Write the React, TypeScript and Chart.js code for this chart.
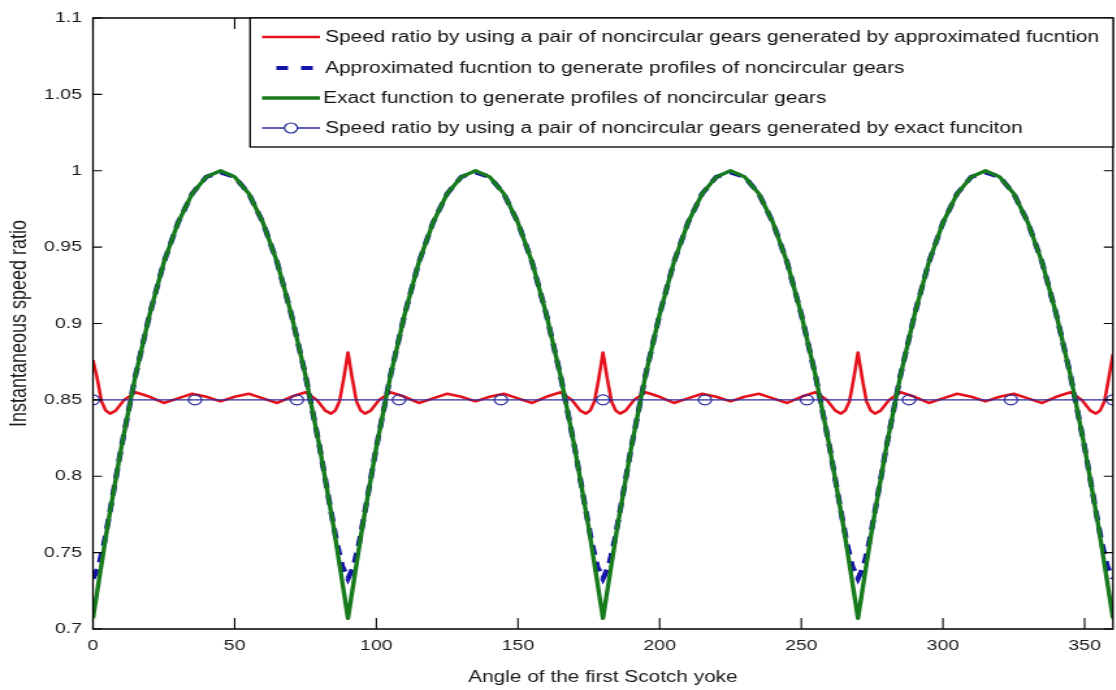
import React, { useEffect, useRef } from 'react';
import { Chart, registerables } from 'chart.js';

Chart.register(...registerables);

// ---------- data ----------
const xTicks = [0, 50, 100, 150, 200, 250, 300, 350];
const yTicks = [0.7, 0.75, 0.8, 0.85, 0.9, 0.95, 1, 1.05, 1.1];
const yTickLabels = ['0.7', '0.75', '0.8', '0.85', '0.9', '0.95', '1', '1.05', '1.1'];

const seriesNames = [
  'Speed ratio by using a pair of noncircular gears generated by approximated fucntion',
  'Approximated fucntion to generate profiles of noncircular gears',
  'Exact function to generate profiles of noncircular gears',
  'Speed ratio by using a pair of noncircular gears generated by exact funciton',
];

const redAngles = [
  0, 1.5, 3, 4.5, 6, 8, 11, 15, 20, 25, 30, 35, 40, 45, 50, 55, 60, 65, 70, 75, 79, 82, 84, 85.5, 87, 88.5,
  90, 91.5, 93, 94.5, 96, 98, 101, 105, 110, 115, 120, 125, 130, 135, 140, 145, 150, 155, 160, 165, 169, 172, 174, 175.5, 177, 178.5,
  180, 181.5, 183, 184.5, 186, 188, 191, 195, 200, 205, 210, 215, 220, 225, 230, 235, 240, 245, 250, 255, 259, 262, 264, 265.5, 267, 268.5,
  270, 271.5, 273, 274.5, 276, 278, 281, 285, 290, 295, 300, 305, 310, 315, 320, 325, 330, 335, 340, 345, 349, 352, 354, 355.5, 357, 358.5,
  360,
];
const redValues = [
  0.876, 0.864, 0.849, 0.843, 0.841, 0.843, 0.850, 0.855, 0.852, 0.848, 0.851, 0.854, 0.852, 0.849, 0.852, 0.854, 0.851, 0.848, 0.852, 0.855, 0.850, 0.843, 0.841, 0.843, 0.849, 0.864,
  0.881, 0.864, 0.849, 0.843, 0.841, 0.843, 0.850, 0.855, 0.852, 0.848, 0.851, 0.854, 0.852, 0.849, 0.852, 0.854, 0.851, 0.848, 0.852, 0.855, 0.850, 0.843, 0.841, 0.843, 0.849, 0.864,
  0.881, 0.864, 0.849, 0.843, 0.841, 0.843, 0.850, 0.855, 0.852, 0.848, 0.851, 0.854, 0.852, 0.849, 0.852, 0.854, 0.851, 0.848, 0.852, 0.855, 0.850, 0.843, 0.841, 0.843, 0.849, 0.864,
  0.881, 0.864, 0.849, 0.843, 0.841, 0.843, 0.850, 0.855, 0.852, 0.848, 0.851, 0.854, 0.852, 0.849, 0.852, 0.854, 0.851, 0.848, 0.852, 0.855, 0.850, 0.843, 0.841, 0.843, 0.849, 0.864,
  0.880,
];

const approxAngles = [
  0, 2, 4, 6, 10, 15, 20, 25, 30, 35, 40, 45, 50, 55, 60, 65, 70, 75, 80, 84, 86, 88,
  90, 92, 94, 96, 100, 105, 110, 115, 120, 125, 130, 135, 140, 145, 150, 155, 160, 165, 170, 174, 176, 178,
  180, 182, 184, 186, 190, 195, 200, 205, 210, 215, 220, 225, 230, 235, 240, 245, 250, 255, 260, 264, 266, 268,
  270, 272, 274, 276, 280, 285, 290, 295, 300, 305, 310, 315, 320, 325, 330, 335, 340, 345, 350, 354, 356, 358,
  360,
];
const approxValues = [
  0.733, 0.741, 0.757, 0.777, 0.819, 0.866, 0.906, 0.940, 0.966, 0.985, 0.996, 0.999, 0.996, 0.985, 0.966, 0.940, 0.906, 0.866, 0.819, 0.777, 0.757, 0.741,
  0.733, 0.741, 0.757, 0.777, 0.819, 0.866, 0.906, 0.940, 0.966, 0.985, 0.996, 0.999, 0.996, 0.985, 0.966, 0.940, 0.906, 0.866, 0.819, 0.777, 0.757, 0.741,
  0.733, 0.741, 0.757, 0.777, 0.819, 0.866, 0.906, 0.940, 0.966, 0.985, 0.996, 0.999, 0.996, 0.985, 0.966, 0.940, 0.906, 0.866, 0.819, 0.777, 0.757, 0.741,
  0.733, 0.741, 0.757, 0.777, 0.819, 0.866, 0.906, 0.940, 0.966, 0.985, 0.996, 0.999, 0.996, 0.985, 0.966, 0.940, 0.906, 0.866, 0.819, 0.777, 0.757, 0.741,
  0.733,
];

const exactAngles = [
  0, 5, 10, 15, 20, 25, 30, 35, 40, 45, 50, 55, 60, 65, 70, 75, 80, 85,
  90, 95, 100, 105, 110, 115, 120, 125, 130, 135, 140, 145, 150, 155, 160, 165, 170, 175,
  180, 185, 190, 195, 200, 205, 210, 215, 220, 225, 230, 235, 240, 245, 250, 255, 260, 265,
  270, 275, 280, 285, 290, 295, 300, 305, 310, 315, 320, 325, 330, 335, 340, 345, 350, 355,
  360,
];
const exactValues = [
  0.707, 0.766, 0.819, 0.866, 0.906, 0.940, 0.966, 0.985, 0.996, 1.000, 0.996, 0.985, 0.966, 0.940, 0.906, 0.866, 0.819, 0.766,
  0.707, 0.766, 0.819, 0.866, 0.906, 0.940, 0.966, 0.985, 0.996, 1.000, 0.996, 0.985, 0.966, 0.940, 0.906, 0.866, 0.819, 0.766,
  0.707, 0.766, 0.819, 0.866, 0.906, 0.940, 0.966, 0.985, 0.996, 1.000, 0.996, 0.985, 0.966, 0.940, 0.906, 0.866, 0.819, 0.766,
  0.707, 0.766, 0.819, 0.866, 0.906, 0.940, 0.966, 0.985, 0.996, 1.000, 0.996, 0.985, 0.966, 0.940, 0.906, 0.866, 0.819, 0.766,
  0.707,
];

const markerAngles = [0, 36, 72, 108, 144, 180, 216, 252, 288, 324, 360];
const markerValues = [0.85, 0.85, 0.85, 0.85, 0.85, 0.85, 0.85, 0.85, 0.85, 0.85, 0.85];

const RED = '#e3121c';
const DASH_BLUE = '#1414a8';
const GREEN = '#177a1d';
const LINE_BLUE = '#2a2a9c';

const FONT = "'Liberation Sans', Arial, Helvetica, sans-serif";

// ---------- layout constants (internal canvas px; canvas is stretched horizontally) ----------
const CANVAS_W = 862;
const CANVAS_H = 690;
const STRETCH = 1.3;

const pairs = (xs: number[], ys: number[]) => xs.map((x, i) => ({ x, y: ys[i] }));

const matlabAxes = {
  id: 'matlabAxes',
  afterDatasetsDraw(chart: any) {
    const { ctx, chartArea: a, scales } = chart;
    const xs = scales.x;
    const ys = scales.y;
    ctx.save();
    ctx.strokeStyle = '#000';
    ctx.lineWidth = 1.3;
    ctx.beginPath();
    ctx.rect(a.left, a.top, a.right - a.left, a.bottom - a.top);
    ctx.stroke();
    ctx.lineWidth = 1.1;
    ctx.beginPath();
    xs.ticks.forEach((t: any) => {
      const px = xs.getPixelForValue(t.value);
      ctx.moveTo(px, a.bottom);
      ctx.lineTo(px, a.bottom - 11);
      ctx.moveTo(px, a.top);
      ctx.lineTo(px, a.top + 11);
    });
    ys.ticks.forEach((t: any) => {
      const py = ys.getPixelForValue(t.value);
      ctx.moveTo(a.left, py);
      ctx.lineTo(a.left + 7, py);
      ctx.moveTo(a.right, py);
      ctx.lineTo(a.right - 7, py);
    });
    ctx.stroke();
    ctx.restore();
  },
};

const boxLegend = {
  id: 'boxLegend',
  afterDraw(chart: any) {
    const { ctx, chartArea: a } = chart;
    const left = 192.3;
    const right = 856;
    const top = a.top;
    const bottom = 147;
    const rows = [37, 68, 98, 128];
    const x1 = 201.5;
    const x2 = 246;
    ctx.save();
    ctx.fillStyle = '#fff';
    ctx.fillRect(left, top, right - left, bottom - top);
    ctx.strokeStyle = '#000';
    ctx.lineWidth = 1.3;
    ctx.strokeRect(left, top, right - left, bottom - top);
    const ds = chart.data.datasets;
    ds.forEach((d: any, i: number) => {
      const y = rows[i];
      ctx.save();
      ctx.strokeStyle = d.borderColor;
      ctx.lineWidth = d.borderWidth;
      if (d.borderDash && d.borderDash.length) {
        ctx.setLineDash([9, 10]);
        ctx.beginPath();
        ctx.moveTo(212.5, y);
        ctx.lineTo(243, y);
        ctx.stroke();
      } else {
        ctx.beginPath();
        ctx.moveTo(x1, y);
        ctx.lineTo(x2, y);
        ctx.stroke();
      }
      if (d.pointRadius > 0) {
        ctx.setLineDash([]);
        ctx.lineWidth = d.pointBorderWidth;
        ctx.strokeStyle = d.pointBorderColor;
        ctx.beginPath();
        ctx.arc((x1 + x2) / 2, y, d.pointRadius, 0, Math.PI * 2);
        ctx.fillStyle = '#fff';
        ctx.fill();
        ctx.stroke();
      }
      ctx.restore();
      ctx.fillStyle = '#111';
      ctx.font = `16px ${FONT}`;
      ctx.textBaseline = 'middle';
      ctx.textAlign = 'left';
      ctx.fillText(d.label, i === 2 ? 248.5 : 250, y + 0.5);
    });
    ctx.restore();
  },
};

export default function App() {
  const canvasRef = useRef<HTMLCanvasElement | null>(null);

  useEffect(() => {
    const canvas = canvasRef.current;
    if (!canvas) return;
    const chart = new Chart(canvas, {
      type: 'line',
      data: {
        datasets: [
          {
            label: seriesNames[0],
            data: pairs(redAngles, redValues),
            borderColor: RED,
            borderWidth: 2.6,
            pointRadius: 0,
            tension: 0,
            borderJoinStyle: 'round',
            order: 4,
          },
          {
            label: seriesNames[1],
            data: pairs(approxAngles, approxValues),
            borderColor: DASH_BLUE,
            borderWidth: 4.2,
            borderDash: [10, 7],
            pointRadius: 0,
            tension: 0,
            order: 3,
          },
          {
            label: seriesNames[2],
            data: pairs(exactAngles, exactValues),
            borderColor: GREEN,
            borderWidth: 3.4,
            pointRadius: 0,
            tension: 0,
            borderJoinStyle: 'round',
            order: 2,
          },
          {
            label: seriesNames[3],
            data: pairs(markerAngles, markerValues),
            borderColor: LINE_BLUE,
            borderWidth: 1.3,
            pointRadius: 5,
            pointStyle: 'circle',
            pointBackgroundColor: 'rgba(255,255,255,0)',
            pointBorderColor: LINE_BLUE,
            pointBorderWidth: 1.2,
            tension: 0,
            order: 1,
          },
        ],
      },
      options: {
        animation: false,
        responsive: false,
        devicePixelRatio: 1,
        layout: { padding: { top: 18, right: 2.4, left: 0, bottom: 0 } },
        plugins: { legend: { display: false }, tooltip: { enabled: false } },
        scales: {
          x: {
            type: 'linear',
            min: 0,
            max: 360,
            afterBuildTicks: (scale: any) => {
              scale.ticks = xTicks.map((v) => ({ value: v }));
            },
            afterFit: (scale: any) => {
              scale.height = 61;
              scale.paddingLeft = 0;
              scale.paddingRight = 0;
            },
            grid: { display: false, drawTicks: false, tickLength: 0 },
            border: { display: false },
            ticks: {
              autoSkip: false,
              maxRotation: 0,
              padding: 8,
              color: '#1a1a1a',
              font: { family: FONT, size: 15 },
              callback: (v: any) => String(v),
            },
            title: {
              display: true,
              text: 'Angle of the first Scotch yoke',
              color: '#1a1a1a',
              font: { family: FONT, size: 16 },
              padding: { top: 0, bottom: 3 },
            },
          },
          y: {
            type: 'linear',
            min: 0.7,
            max: 1.1,
            afterBuildTicks: (scale: any) => {
              scale.ticks = yTicks.map((v) => ({ value: v }));
            },
            afterFit: (scale: any) => {
              scale.width = 71.5;
              scale.paddingTop = 0;
              scale.paddingBottom = 0;
            },
            grid: { display: false, drawTicks: false, tickLength: 0 },
            border: { display: false },
            ticks: {
              autoSkip: false,
              padding: 8.5,
              color: '#1a1a1a',
              font: { family: FONT, size: 15 },
              callback: (_v: any, i: number) => yTickLabels[i],
            },
            title: {
              display: true,
              text: 'Instantaneous speed ratio',
              color: '#1a1a1a',
              font: { family: FONT, size: 18 },
              padding: { top: 4, bottom: 0 },
            },
          },
        },
      },
      plugins: [matlabAxes, boxLegend],
    });
    return () => chart.destroy();
  }, []);

  return (
    <div
      style={{
        position: 'fixed',
        left: 0,
        top: 0,
        width: '1116px',
        height: '690px',
        overflow: 'hidden',
        background: '#fff',
      }}
    >
      <canvas
        ref={canvasRef}
        width={CANVAS_W}
        height={CANVAS_H}
        style={{ width: `${CANVAS_W * STRETCH}px`, height: `${CANVAS_H}px`, display: 'block' }}
      />
    </div>
  );
}
